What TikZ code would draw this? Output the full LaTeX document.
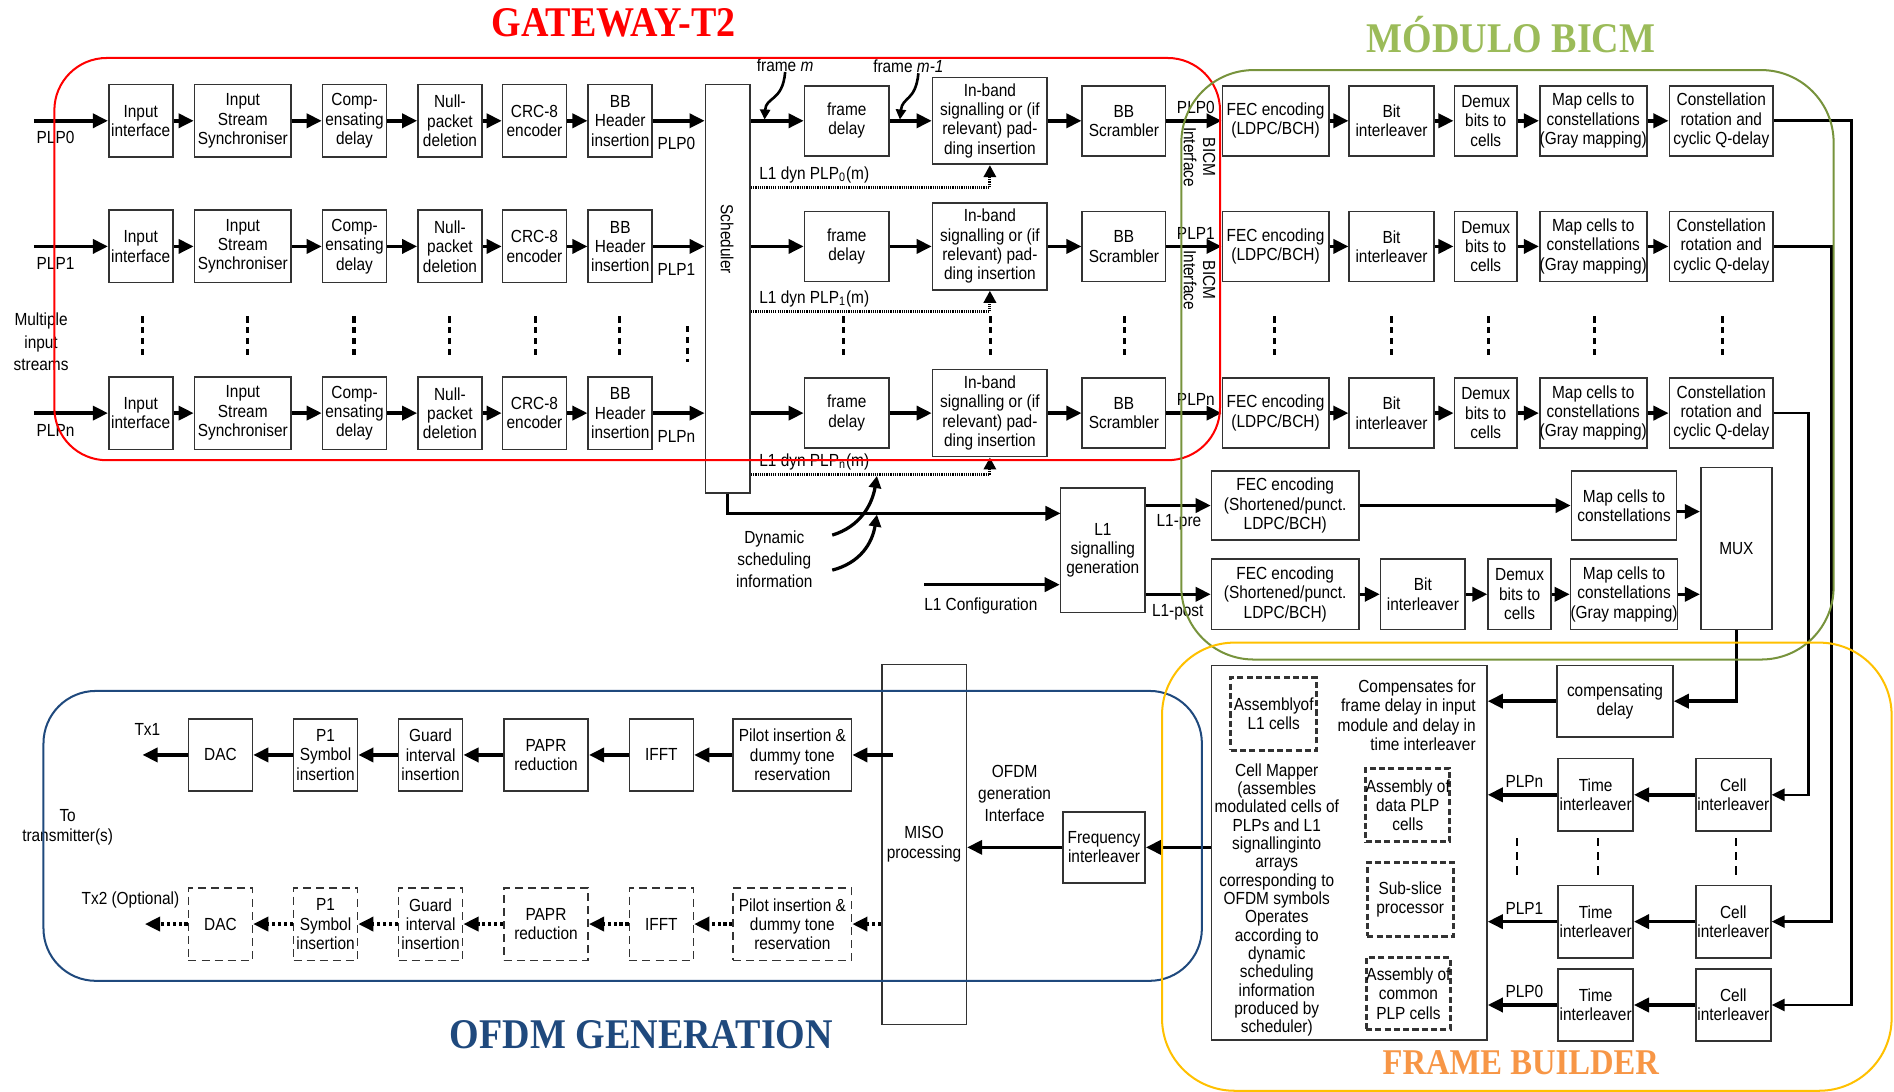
\documentclass[tikz,border=0pt]{standalone}
\usepackage{fontspec}
\setmainfont[FakeStretch=0.88]{Liberation Sans}
\newfontfamily\titlefont[FakeStretch=0.9]{Liberation Serif}
\usetikzlibrary{arrows.meta,calc}
\definecolor{gwred}{HTML}{FF0000}
\definecolor{bicmtxt}{HTML}{9BBB59}
\definecolor{bicmline}{HTML}{77933C}
\definecolor{ofdmblue}{HTML}{1F497D}
\definecolor{fbtxt}{HTML}{F79646}
\definecolor{fbline}{HTML}{FFC000}
\definecolor{boxline}{HTML}{333333}
\newcommand\bx[7][]{%
  \pgfmathsetmacro\bxw{((#5)-(#3))*0.6}%
  \pgfmathsetmacro\bxh{((#6)-(#4))*0.6}%
  \node[box,#1,minimum width=\bxw pt,minimum height=\bxh pt] (#2) at ({((#3)+(#5))/2},{((#4)+(#6))/2}) {#7};}
\begin{document}
\begin{tikzpicture}[x=0.6pt,y=-0.6pt,
  font=\fontsize{8.7}{9.6}\selectfont,
  box/.style={draw=boxline,line width=0.8pt,align=center,inner sep=0pt},
  dbox/.style={box,dash pattern=on 4pt off 2.5pt},
  tbox/.style={box,line width=1.5pt,dash pattern=on 3pt off 1.6pt},
  arr/.style={line width=1.7pt,-{Triangle[length=7.5pt,width=7pt]}},
  darr/.style={arr,dash pattern=on 1.6pt off 1.3pt},
  dyn/.style={line width=1.5pt,dash pattern=on 0.6pt off 0.5pt,-{Triangle[length=6pt,width=6pt]}},
  rline/.style={line width=1.3pt,-{Triangle[length=6.5pt,width=6pt]}},
  vdots/.style={line width=1.6pt,dash pattern=on 3pt off 2.4pt},
  lbl/.style={inner sep=0pt,align=center},
  ttl/.style={inner sep=0pt,font={\titlefont\bfseries\fontsize{21}{24}\selectfont}},
  frame/.style={line width=1pt,rounded corners=26pt}]
\useasboundingbox (0,0) rectangle (1568,904);

% ---------------- titles
\node[ttl,text=gwred] (tgw) at (508,19) {GATEWAY-T2};
\node[ttl,text=bicmtxt] (tbicm) at (1251,29) {MÓDULO BICM};
\node[ttl,text=ofdmblue] (tofdm) at (531,857) {OFDM GENERATION};
\node[ttl,text=fbtxt,font={\titlefont\bfseries\fontsize{18}{20}\selectfont}] (tfb) at (1259,880) {FRAME BUILDER};

% ---------------- scheduler
\bx{sch}{584}{70}{621}{408}{}
\node[lbl,rotate=-90] (schtxt) at (602,198) {Scheduler};

% ---------------- gateway + BICM rows
\foreach \r/\y/\d in {0/100/155, 1/204/258, n/342/393}{
  \coordinate (in\r) at (28,\y);
  \bx{ii\r}{90}{\y-30}{143}{\y+30}{Input\\interface}
  \bx{iss\r}{161}{\y-30}{241}{\y+30}{Input\\Stream\\Synchroniser}
  \bx{cd\r}{267}{\y-30}{320}{\y+30}{Comp-\\ensating\\delay}
  \bx{np\r}{346}{\y-30}{399}{\y+30}{Null-\\packet\\deletion}
  \bx{crc\r}{416}{\y-30}{469}{\y+30}{CRC-8\\encoder}
  \bx{bbh\r}{487}{\y-30}{540}{\y+30}{BB\\Header\\insertion}
  \bx{fd\r}{666}{\y-29}{736}{\y+29}{frame\\delay}
  \bx{ib\r}{772}{\y-36}{867}{\y+36}{In-band\\signalling or (if\\relevant) pad-\\ding insertion}
  \bx{bbs\r}{896}{\y-29}{965}{\y+29}{BB\\Scrambler}
  \bx{fec\r}{1012}{\y-29}{1100}{\y+29}{FEC encoding\\(LDPC/BCH)}
  \bx{bit\r}{1117}{\y-29}{1187}{\y+29}{Bit\\interleaver}
  \bx{dmx\r}{1204}{\y-29}{1256}{\y+29}{Demux\\bits to\\cells}
  \bx{map\r}{1275}{\y-29}{1363}{\y+29}{Map cells to\\constellations\\(Gray mapping)}
  \bx{cr\r}{1382}{\y-29}{1468}{\y+29}{Constellation\\rotation and\\cyclic Q-delay}
  \node[lbl] (plpin\r) at (46,\y+14) {PLP\r};
  \node[lbl] (plpo\r) at (560,\y+19) {PLP\r};
  \node[lbl] (plpb\r) at (990,\y-11) {PLP\r};
  \draw[arr] (in\r) -- (ii\r);
  \draw[arr] (ii\r) -- (iss\r);
  \draw[arr] (iss\r) -- (cd\r);
  \draw[arr] (cd\r) -- (np\r);
  \draw[arr] (np\r) -- (crc\r);
  \draw[arr] (crc\r) -- (bbh\r);
  \draw[arr] (bbh\r) -- (sch.west |- bbh\r);
  \draw[arr] (sch.east |- fd\r) -- (fd\r);
  \draw[arr] (fd\r) -- (ib\r);
  \draw[arr] (ib\r) -- (bbs\r);
  \draw[arr] (bbs\r) -- (fec\r);
  \draw[arr] (fec\r) -- (bit\r);
  \draw[arr] (bit\r) -- (dmx\r);
  \draw[arr] (dmx\r) -- (map\r);
  \draw[arr] (map\r) -- (cr\r);
  \coordinate (dy\r) at (700,\d);
  \draw[dyn] (sch.east |- dy\r) -| (ib\r.south);
  \node[lbl,anchor=south west] (dyl\r) at ([xshift=4pt,yshift=2pt]sch.east |- dy\r) {L1 dyn PLP\textsubscript{\r}(m)};
}
\node[lbl,rotate=-90] (bicmi0) at (993,130) {BICM\\Interface};
\node[lbl,rotate=-90] (bicmi1) at (993,232) {BICM\\Interface};
\node[lbl,font=\fontsize{8.7}{11}\selectfont] (mis) at (34,283) {Multiple\\input\\streams};

% frame m labels
\node[lbl] (fm) at (650,54) {frame \textit{m}};
\node[lbl] (fm1) at (752,55) {frame \textit{m-1}};
\draw[line width=1.3pt,-{Triangle[length=5pt,width=5pt]}] (fm.south) .. controls (648,84) and (634,80) .. (633,99);
\draw[line width=1.3pt,-{Triangle[length=5pt,width=5pt]}] ([xshift=5pt]fm1.south) .. controls (758,84) and (747,80) .. (745,99);

% vertical dots
\foreach \x in {118,205,293,372,443,513,698,820,931,1055,1152,1232,1320,1426}
  \draw[vdots] (\x,262) -- (\x,295);
\draw[vdots] (569,270) -- (569,300);

% ---------------- L1 signalling
\bx{l1g}{878}{404}{948}{507}{L1\\signalling\\generation}
\coordinate (l1in) at (878,425);
\coordinate (l1cfg) at (765,484);
\draw[arr] (sch.south) |- (l1in);
\draw[arr] (l1cfg) -- (l1g.west |- l1cfg);
\node[lbl] (l1cfgt) at (812,502) {L1 Configuration};
\node[lbl,font=\fontsize{8.7}{11}\selectfont] (dsi) at (641,463) {Dynamic\\scheduling\\information};
\coordinate (dsa) at (689,443);
\coordinate (dsb) at (689,472);
\coordinate (dsat) at (726,394);
\coordinate (dsbt) at (726,426);
\draw[line width=1.6pt,-{Triangle[length=6pt,width=6pt]}] (dsa) .. controls (712,436) and (722,418) .. (dsat);
\draw[line width=1.6pt,-{Triangle[length=6pt,width=6pt]}] (dsb) .. controls (712,466) and (722,450) .. (dsbt);

\bx{fecpre}{1003}{390}{1125}{447}{FEC encoding\\(Shortened/punct.\\LDPC/BCH)}
\bx{fecpost}{1003}{463}{1125}{521}{FEC encoding\\(Shortened/punct.\\LDPC/BCH)}
\bx{mappre}{1301}{390}{1388}{447}{Map cells to\\constellations}
\bx{bitpost}{1143}{463}{1213}{521}{Bit\\interleaver}
\bx{dmxpost}{1232}{463}{1284}{521}{Demux\\bits to\\cells}
\bx{mappost}{1301}{463}{1388}{521}{Map cells to\\constellations\\(Gray mapping)}
\bx{mux}{1408}{387}{1467}{521}{MUX}
\draw[arr] (l1g.east |- fecpre) -- (fecpre);
\draw[arr] (l1g.east |- fecpost) -- (fecpost);
\node[lbl] (l1pre) at (976,432) {L1-pre};
\node[lbl] (l1post) at (975,507) {L1-post};
\draw[arr] (fecpre) -- (mappre);
\draw[arr] (fecpost) -- (bitpost);
\draw[arr] (bitpost) -- (dmxpost);
\draw[arr] (dmxpost) -- (mappost);
\draw[arr] ([yshift=-3pt]mappre.east) -- ([yshift=-3pt]mux.west |- mappre);
\draw[arr] (mappost.east) -- (mux.west |- mappost);

% ---------------- frame builder
\bx{compd}{1289}{551}{1385}{610}{compensating\\delay}
\bx{big}{1003}{551}{1231}{861}{}
\bx[tbox]{asl1}{1019}{561}{1090}{621}{Assemblyof\\L1 cells}
\bx[tbox]{asdat}{1131}{636}{1200}{697}{Assembly of\\data PLP\\cells}
\bx[tbox]{subs}{1132}{714}{1203}{775}{Sub-slice\\processor}
\bx[tbox]{ascom}{1131}{793}{1201}{852}{Assembly of\\common\\PLP cells}
\node[lbl,align=right,anchor=east] (comptxt) at (1222,592) {Compensates for\\frame delay in input\\module and delay in\\time interleaver};
\node[lbl,font=\fontsize{8.7}{9.1}\selectfont] (cmtxt) at (1057,745) {Cell Mapper\\(assembles\\modulated cells of\\PLPs and L1\\signallinginto\\arrays\\corresponding to\\OFDM symbols\\Operates\\according to\\dynamic\\scheduling\\information\\produced by\\scheduler)};
\draw[arr] (mux.south) |- (compd.east);
\draw[arr] (compd.west) -- (big.east |- compd);

\coordinate (xr0) at (1533,0);
\coordinate (xr1) at (1516,0);
\coordinate (xrn) at (1497,0);
\foreach \r/\y in {n/658, 1/763, 0/832}{
  \bx{ti\r}{1290}{\y-30}{1352}{\y+30}{Time\\interleaver}
  \bx{ci\r}{1404}{\y-30}{1466}{\y+30}{Cell\\interleaver}
  \draw[arr] (ci\r) -- (ti\r);
  \draw[arr] (ti\r) -- (big.east |- ti\r);
  \node[lbl] (plpf\r) at (1262,\y-11) {PLP\r};
  \draw[rline] (cr\r.east) -- (cr\r.east -| xr\r) |- (ci\r.east);
}
\foreach \x in {1256,1323,1437}
  \draw[line width=1pt,dash pattern=on 4pt off 3pt] (\x,694) -- (\x,728);

% ---------------- OFDM generation
\bx{freq}{880}{672}{948}{731}{Frequency\\interleaver}
\bx{miso}{730}{550}{800}{848}{MISO\\processing}
\draw[arr] (big.west |- freq) -- (freq.east);
\draw[arr] (freq.west) -- (miso.east |- freq);
\node[lbl,font=\fontsize{8.7}{11}\selectfont] (ogi) at (840,657) {OFDM\\generation\\Interface};

\bx{pil1}{607}{595}{705}{655}{Pilot insertion \&\\dummy tone\\reservation}
\bx{ifft1}{521}{595}{574}{655}{IFFT}
\bx{papr1}{417}{595}{487}{655}{PAPR\\reduction}
\bx{gi1}{330}{595}{383}{655}{Guard\\interval\\insertion}
\bx{pone1}{243}{595}{296}{655}{P1\\Symbol\\insertion}
\bx{dac1}{156}{595}{209}{655}{DAC}
\coordinate (tx1) at (118,625);
\draw[arr] ([xshift=6pt]miso.west |- pil1) -- (pil1);
\draw[arr] (pil1) -- (ifft1);
\draw[arr] (ifft1) -- (papr1);
\draw[arr] (papr1) -- (gi1);
\draw[arr] (gi1) -- (pone1);
\draw[arr] (pone1) -- (dac1);
\draw[arr] (dac1) -- (tx1);
\node[lbl] (tx1l) at (122,604) {Tx1};

\bx[dbox]{pil2}{607}{735}{705}{795}{Pilot insertion \&\\dummy tone\\reservation}
\bx[dbox]{ifft2}{521}{735}{574}{795}{IFFT}
\bx[dbox]{papr2}{417}{735}{487}{795}{PAPR\\reduction}
\bx[dbox]{gi2}{330}{735}{383}{795}{Guard\\interval\\insertion}
\bx[dbox]{pone2}{243}{735}{296}{795}{P1\\Symbol\\insertion}
\bx[dbox]{dac2}{156}{735}{209}{795}{DAC}
\coordinate (tx2) at (120,765);
\draw[darr] (miso.west |- pil2) -- (pil2);
\draw[darr] (pil2) -- (ifft2);
\draw[darr] (ifft2) -- (papr2);
\draw[darr] (papr2) -- (gi2);
\draw[darr] (gi2) -- (pone2);
\draw[darr] (pone2) -- (dac2);
\draw[darr] (dac2) -- (tx2);
\node[lbl] (tx2l) at (108,745) {Tx2 (Optional)};
\node[lbl] (totx) at (56,685) {To\\transmitter(s)};

% ---------------- coloured frames
\draw[frame,gwred] (45,48) rectangle (1010,381);
\draw[frame,bicmline,rounded corners=36pt] (978,58) rectangle (1518,546);
\draw[frame,ofdmblue] (36,572) rectangle (995,812);
\draw[frame,fbline,rounded corners=36pt] (962,532) rectangle (1566,903);
\end{tikzpicture}
\end{document}
